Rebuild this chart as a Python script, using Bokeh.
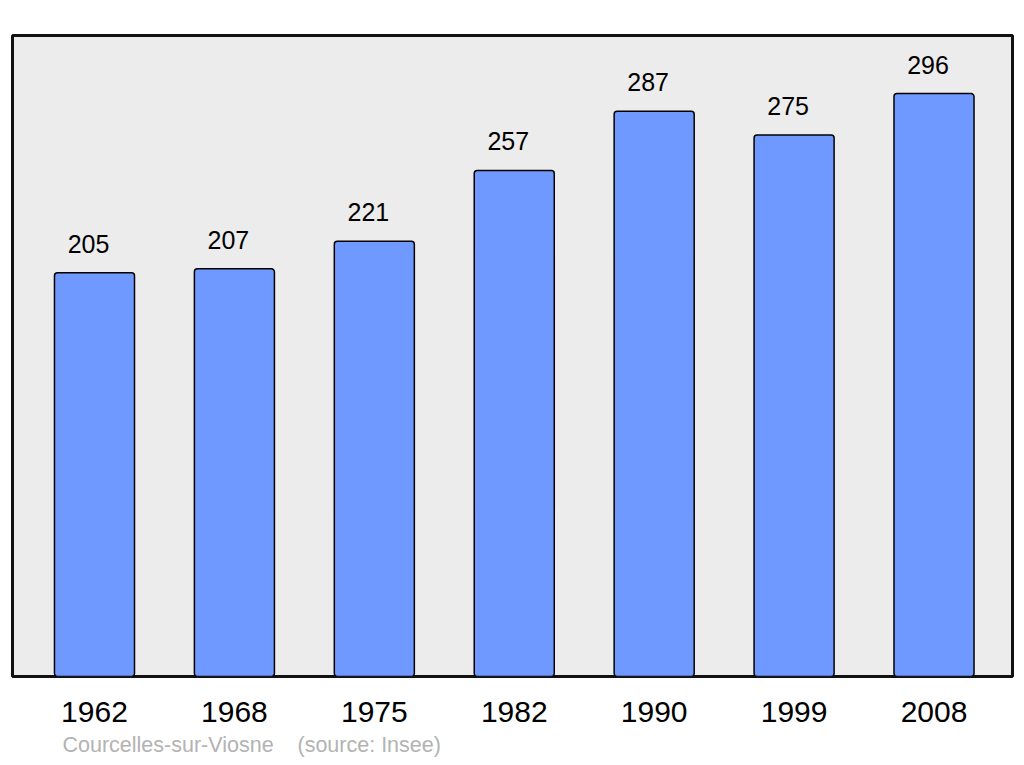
from bokeh.plotting import figure
from bokeh.models import Range1d, FixedTicker, Title, ColumnDataSource
from bokeh.embed import file_html
from bokeh.resources import INLINE

years = ["1962", "1968", "1975", "1982", "1990", "1999", "2008"]
population = [205, 207, 221, 257, 287, 275, 296]
positions = list(range(len(years)))
value_labels = [str(v) for v in population]

src = ColumnDataSource(dict(x=positions, top=population, lab=value_labels))

FONT = "Liberation Sans"

p = figure(width=1016, height=763, output_backend="svg", toolbar_location=None,
           x_range=Range1d(-0.586, 6.561), y_range=Range1d(0, 325.5),
           min_border_left=12, min_border_right=4, min_border_top=35, min_border_bottom=87)
p.background_fill_color = "#ececec"
p.border_fill_color = "white"
p.outline_line_color = "#111111"
p.outline_line_width = 3
p.grid.visible = False
p.yaxis.visible = False

p.vbar(x="x", top="top", bottom=0, width=0.572, source=src,
       fill_color="#7099ff", line_color="#000000", line_width=1.5, border_radius=3)

p.text(x="x", y="top", text="lab", source=src, x_offset=-6, y_offset=-20,
       text_align="center", text_baseline="bottom", text_font_size="25px",
       text_color="#000000", text_font={"value": FONT})

ax = p.xaxis[0]
ax.ticker = FixedTicker(ticks=positions)
ax.major_label_overrides = {i: y for i, y in zip(positions, years)}
ax.axis_line_color = None
ax.major_tick_line_color = None
ax.minor_tick_line_color = None
ax.major_tick_in = 0
ax.major_tick_out = 0
ax.major_label_standoff = 25
ax.major_label_text_font_size = "30px"
ax.major_label_text_font = FONT
ax.major_label_text_color = "#000000"

footer = Title(text="Courcelles-sur-Viosne\u00a0\u00a0\u00a0\u00a0(source: Insee)",
               align="left", offset=50, text_font_size="21.5px", text_font_style="normal",
               text_color="#b3b3b3", text_font=FONT, standoff=13)
p.add_layout(footer, "below")

open("out.html", "w").write(file_html(p, INLINE))
